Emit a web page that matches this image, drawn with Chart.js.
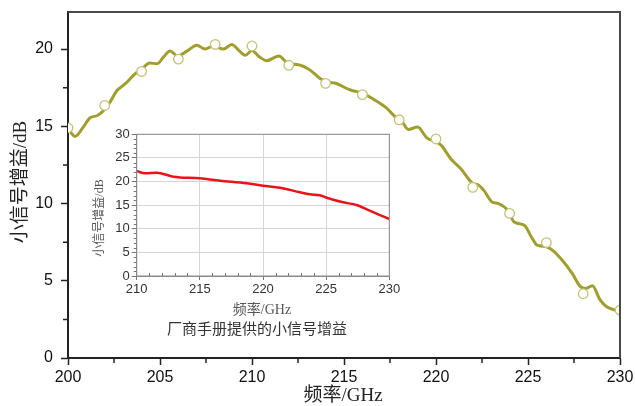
<!DOCTYPE html>
<html>
<head>
<meta charset="utf-8">
<script src="https://cdn.jsdelivr.net/npm/chart.js@4"></script>
<style>
  html, body { margin:0; padding:0; background:#fff; }
  #wrap { position:relative; width:635px; height:406px; }
  #main { position:absolute; left:0; top:0; }
  #inset { position:absolute; left:85px; top:124px; }
</style>
</head>
<body>
<div id="wrap">
  <canvas id="main" width="635" height="406"></canvas>
  <canvas id="inset" width="320" height="215"></canvas>
</div>
<script>
// ---- Main chart data (measured curve) ----
const freq = [200.0,200.4,200.8,201.2,201.6,202.0,202.3,202.65,202.9,203.2,203.55,204.0,204.45,204.85,205.2,205.55,205.95,206.5,207.0,207.45,207.9,208.45,208.9,209.3,209.63,209.99,210.4,210.8,211.45,212.0,212.45,213.15,213.7,214.2,214.5,215.35,216.0,216.6,217.35,217.8,218.1,218.5,219.0,219.5,220.0,220.3,220.8,221.35,222.0,222.3,222.6,223.05,223.4,223.9,224.25,224.8,225.2,225.5,226.0,226.4,226.85,227.4,227.85,228.15,228.5,228.9,229.3,229.75,230.0];
const gain = [14.85,14.35,14.9,15.55,15.7,16.1,16.6,17.3,17.55,17.85,18.3,18.7,19.1,19.05,19.5,19.88,19.55,19.9,20.25,20.0,20.2,20.0,20.3,19.9,19.6,19.9,19.5,19.25,19.55,19.05,19.0,18.65,18.1,17.85,17.8,17.35,17.15,16.75,16.15,15.6,15.4,14.8,14.95,14.25,14.0,13.75,12.9,12.25,11.3,11.2,10.85,10.1,10.0,9.55,8.8,8.6,7.8,7.3,7.2,6.9,6.34,5.48,4.62,4.5,4.68,3.8,3.3,3.1,3.05];
// hollow circle markers
const markerFreq = [200,202,204,206,208,210,212,214,216,218,220,222,224,226,228,230];
const markerGain = [14.9,16.35,18.55,19.35,20.3,20.2,18.95,17.78,17.05,15.42,14.18,11.05,9.36,7.47,4.16,3.1];
const mainXTicks = [200,205,210,215,220,225,230];
const mainYTicks = [0,5,10,15,20];
const mainXMinor = [202.5,207.5,212.5,217.5,222.5,227.5];
const mainYMinor = [2.5,7.5,12.5,17.5];

// ---- Inset data (manufacturer's small-signal gain) ----
const insetFreq = [210,210.66,211.58,212.9,215.0,216.6,218.7,220.0,221.35,222.93,223.7,224.5,225.04,226.35,227.4,228.45,229.26,230];
const insetGain = [22.2,21.74,21.87,21.03,20.68,20.18,19.63,19.12,18.7,17.72,17.3,17.08,16.58,15.6,15.03,13.83,12.9,12.07];
const insetXTicks = [210,215,220,225,230];
const insetYTicks = [0,5,10,15,20,25,30];

const SANS = '"Liberation Sans", Arial, sans-serif';
const SERIF = '"Liberation Serif", "Noto Sans CJK SC", serif';

const mainDeco = {
  id:'mainDeco',
  afterDraw(chart){
    const {ctx, chartArea:a, scales:{x,y}} = chart;
    ctx.save();
    // top & right frame
    ctx.strokeStyle = '#4a4a4a'; ctx.lineWidth = 2;
    ctx.beginPath();
    ctx.moveTo(a.left, a.top); ctx.lineTo(a.right, a.top); ctx.lineTo(a.right, a.bottom);
    ctx.stroke();
    // minor ticks
    ctx.strokeStyle = '#222'; ctx.lineWidth = 1.5;
    ctx.beginPath();
    mainXMinor.forEach(v=>{ const px = x.getPixelForValue(v); ctx.moveTo(px, a.bottom); ctx.lineTo(px, a.bottom+5); });
    mainYMinor.forEach(v=>{ const py = y.getPixelForValue(v); ctx.moveTo(a.left, py); ctx.lineTo(a.left-5, py); });
    ctx.stroke();
    // axis titles
    ctx.fillStyle = '#222';
    ctx.font = '19px ' + SERIF;
    ctx.textAlign = 'center'; ctx.textBaseline = 'middle';
    ctx.fillText('频率/GHz', 343, 396);
    ctx.translate(21, 182); ctx.rotate(-Math.PI/2);
    ctx.fillText('小信号增益/dB', 0, 0);
    ctx.restore();
  }
};

new Chart(document.getElementById('main'), {
  type:'line',
  data:{ datasets:[
    { type:'scatter', data: markerFreq.map((f,i)=>({x:f, y:markerGain[i]})),
      pointRadius:4.8, pointBackgroundColor:'#ffffff', pointBorderColor:'#c4c37a', pointBorderWidth:1.3,
      showLine:false, clip:0, order:0 },
    { data: freq.map((f,i)=>({x:f, y:gain[i]})), borderColor:'#a09e2c', borderWidth:3,
      pointRadius:0, cubicInterpolationMode:'monotone', fill:false, order:1 }
  ]},
  options:{
    responsive:false, animation:false, devicePixelRatio:1,
    plugins:{ legend:{display:false}, tooltip:{enabled:false} },
    layout:{ padding:{ top:12, right:15, left:0, bottom:0 } },
    scales:{
      x:{ type:'linear', min:200, max:230,
        afterBuildTicks:s=>{ s.ticks = mainXTicks.map(v=>({value:v})); },
        afterFit:s=>{ s.height = 48; s.paddingLeft = 0; s.paddingRight = 0; },
        grid:{ drawOnChartArea:false, tickLength:7, tickColor:'#222', tickWidth:1.5 },
        border:{ color:'#222', width:2 },
        ticks:{ font:{family:SANS, size:16}, color:'#111', padding:3, maxRotation:0 } },
      y:{ type:'linear', min:0, max:22.4,
        afterBuildTicks:s=>{ s.ticks = mainYTicks.map(v=>({value:v})); },
        afterFit:s=>{ s.width = 68; s.paddingTop = 0; s.paddingBottom = 0; },
        grid:{ drawOnChartArea:false, tickLength:7, tickColor:'#222', tickWidth:1.5 },
        border:{ color:'#222', width:2 },
        ticks:{ font:{family:SANS, size:16}, color:'#111', padding:8 } }
    }
  },
  plugins:[mainDeco]
});

const insetDeco = {
  id:'insetDeco',
  afterDraw(chart){
    const {ctx, chartArea:a, scales:{x,y}} = chart;
    ctx.save();
    ctx.strokeStyle = '#8a8a8a'; ctx.lineWidth = 1;
    ctx.strokeRect(a.left, a.top, a.right-a.left, a.bottom-a.top);
    ctx.strokeStyle = '#777';
    ctx.beginPath();
    for (let v=1; v<30; v++){ if (v%5===0) continue; const py = Math.round(y.getPixelForValue(v))+0.5; ctx.moveTo(a.left, py); ctx.lineTo(a.left-3, py); }
    for (let v=211; v<230; v++){ if (v%5===0) continue; const px = Math.round(x.getPixelForValue(v))+0.5; ctx.moveTo(px, a.bottom); ctx.lineTo(px, a.bottom-3); }
    ctx.stroke();
    ctx.fillStyle = '#555';
    ctx.textAlign = 'center'; ctx.textBaseline = 'middle';
    ctx.font = '14px ' + SERIF;
    ctx.fillText('频率/GHz', 177, 186);
    ctx.fillStyle = '#333';
    ctx.font = '15px ' + SERIF;
    ctx.fillText('厂商手册提供的小信号增益', 172, 206);
    ctx.fillStyle = '#555';
    ctx.font = '12px ' + SERIF;
    ctx.translate(15, 94); ctx.rotate(-Math.PI/2);
    ctx.fillText('小信号增益/dB', 0, 0);
    ctx.restore();
  }
};

new Chart(document.getElementById('inset'), {
  type:'line',
  data:{ datasets:[
    { data: insetFreq.map((f,i)=>({x:f, y:insetGain[i]})), borderColor:'#e8141c', borderWidth:2.5,
      pointRadius:0, cubicInterpolationMode:'monotone', fill:false }
  ]},
  options:{
    responsive:false, animation:false, devicePixelRatio:1,
    plugins:{ legend:{display:false}, tooltip:{enabled:false} },
    layout:{ padding:{ top:10.3, right:15.7, left:0, bottom:0 } },
    scales:{
      x:{ type:'linear', min:210, max:230,
        afterBuildTicks:s=>{ s.ticks = insetXTicks.map(v=>({value:v})); },
        afterFit:s=>{ s.height = 63; },
        grid:{ color:'#d6d6d6', lineWidth:1, tickLength:4, tickColor:'#777' },
        border:{ color:'#8a8a8a', width:1 },
        ticks:{ font:{family:SANS, size:13}, color:'#333', padding:2, maxRotation:0 } },
      y:{ type:'linear', min:0, max:30,
        afterBuildTicks:s=>{ s.ticks = insetYTicks.map(v=>({value:v})); },
        afterFit:s=>{ s.width = 51.7; },
        grid:{ color:'#d6d6d6', lineWidth:1, tickLength:5, tickColor:'#777' },
        border:{ color:'#8a8a8a', width:1 },
        ticks:{ font:{family:SANS, size:13}, color:'#333', padding:2 } }
    }
  },
  plugins:[insetDeco]
});
</script>
</body>
</html>
